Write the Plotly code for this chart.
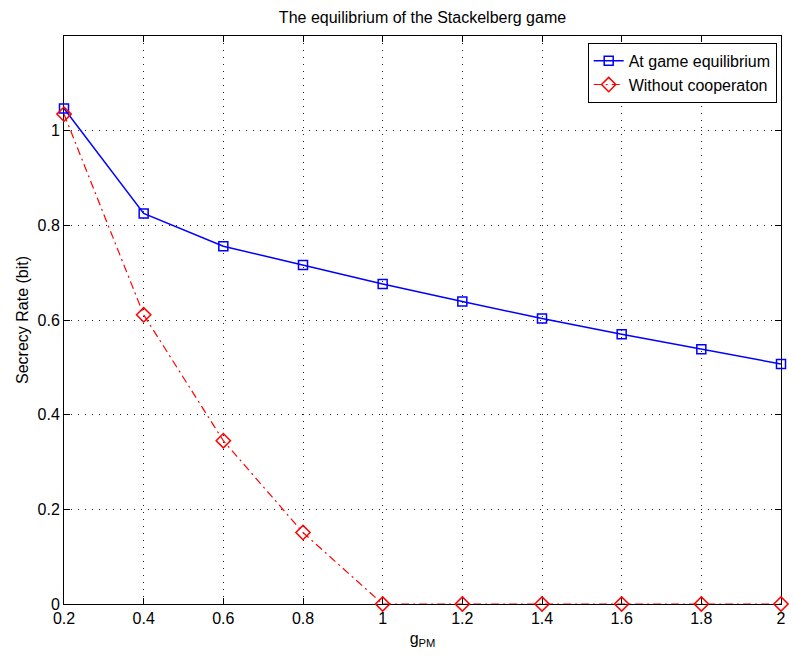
import plotly.graph_objects as go

x_vals = [0.2, 0.4, 0.6, 0.8, 1.0, 1.2, 1.4, 1.6, 1.8, 2.0]
equilibrium = [1.047, 0.825, 0.756, 0.716, 0.676, 0.639, 0.603, 0.570, 0.538, 0.507]
without_coop = [1.035, 0.611, 0.345, 0.151, 0.0, 0.0, 0.0, 0.0, 0.0, 0.0]
x_ticks = [0.2, 0.4, 0.6, 0.8, 1, 1.2, 1.4, 1.6, 1.8, 2]
y_ticks = [0, 0.2, 0.4, 0.6, 0.8, 1]

FONT = "Liberation Sans, Arial, Helvetica, sans-serif"

fig = go.Figure()
fig.add_trace(go.Scatter(
    x=x_vals, y=equilibrium, mode="lines+markers", name="At game equilibrium",
    line=dict(color="#0000ff", width=1.5),
    marker=dict(symbol="square-open", size=9, color="#0000ff", line=dict(width=1.5)),
    cliponaxis=False,
))
fig.add_trace(go.Scatter(
    x=x_vals, y=without_coop, mode="lines+markers", name="Without cooperaton",
    line=dict(color="#ff0000", width=1.2, dash="8px,4px,2px,4px"),
    marker=dict(symbol="diamond-open", size=11, color="#ff0000", line=dict(width=1.5)),
    cliponaxis=False,
))

axis_common = dict(
    showline=True, linecolor="black", linewidth=1, mirror="ticks",
    ticks="inside", ticklen=6, tickcolor="black",
    showgrid=True, gridcolor="#222222", griddash="1px,6px", gridwidth=1,
    zeroline=False, layer="below traces",
    tickfont=dict(family=FONT, size=16, color="black"),
)

fig.update_xaxes(range=[0.2, 2.0], tickvals=x_ticks, ticktext=[str(v) for v in x_ticks],
                 title=dict(text="g<sub>PM</sub>", standoff=6,
                            font=dict(family=FONT, size=16, color="black")),
                 **axis_common)
fig.update_yaxes(range=[0, 1.2], tickvals=y_ticks, ticktext=[str(v) for v in y_ticks],
                 title=dict(text="Secrecy Rate (bit)", standoff=4,
                            font=dict(family=FONT, size=16, color="black")),
                 **axis_common)

fig.update_layout(
    width=793, height=656,
    margin=dict(l=64, r=7, t=36, b=52),
    paper_bgcolor="white", plot_bgcolor="white",
    title=dict(text="The equilibrium of the Stackelberg game", x=0.5, xref="paper",
               y=1 - 17 / 656, yanchor="middle",
               font=dict(family=FONT, size=16, color="black")),
    legend=dict(x=0.994, y=0.988, xanchor="right", yanchor="top",
                bgcolor="white", bordercolor="black", borderwidth=1,
                font=dict(family=FONT, size=16, color="black"),
                tracegroupgap=0, itemwidth=30),
    showlegend=True,
)

fig.write_html("out.html")
